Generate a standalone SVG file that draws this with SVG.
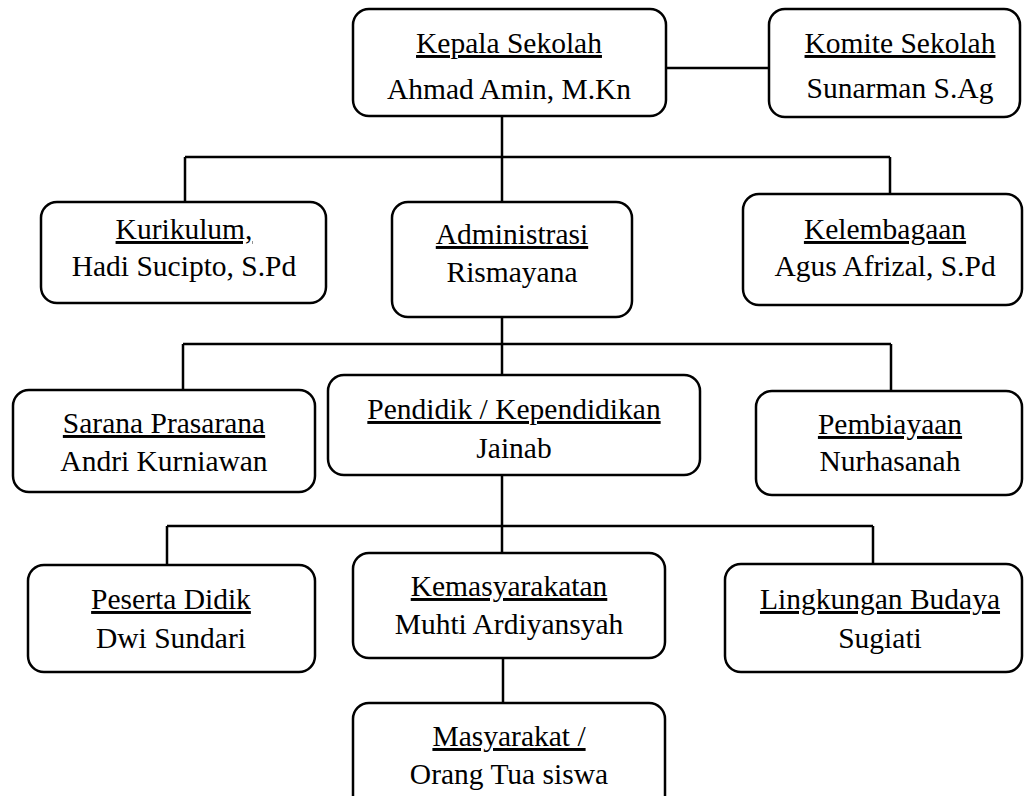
<svg xmlns="http://www.w3.org/2000/svg" width="1025" height="796" viewBox="0 0 1025 796">
<style>
.box{fill:#fff;stroke:#000;stroke-width:2.5}
.ln{fill:none;stroke:#000;stroke-width:2.5}
text{font-family:"Liberation Serif","Times New Roman",serif;font-size:29.5px;fill:#000;text-anchor:middle}
.u{text-decoration:underline}
</style>
<rect width="1025" height="796" fill="#fff"/>
<g id="connectors">
<path class="ln" d="M666 68H769"/>
<path class="ln" d="M502 116V157M185 157H890M185 157V202M502 157V202M890 157V194"/>
<path class="ln" d="M502 317V344M183 344H891M183 344V390M502 344V375M891 344V391"/>
<path class="ln" d="M502 475V526M167 526H873M167 526V565M502 526V553M873 526V564"/>
<path class="ln" d="M503 658V703"/>
</g>
<g id="kepala"><rect class="box" x="353" y="9" width="313" height="107" rx="16"/><text class="u" x="509" y="53">Kepala Sekolah</text><text x="509" y="99">Ahmad Amin, M.Kn</text></g>
<g id="komite"><rect class="box" x="769" y="9" width="251" height="108" rx="16"/><text class="u" x="900" y="53">Komite Sekolah</text><text x="900" y="98">Sunarman S.Ag</text></g>
<g id="kurikulum"><rect class="box" x="41" y="202" width="285" height="101" rx="16"/><text class="u" x="184" y="239">Kurikulum,</text><text x="184" y="276">Hadi Sucipto, S.Pd</text></g>
<g id="administrasi"><rect class="box" x="392" y="202" width="240" height="115" rx="16"/><text class="u" x="512" y="244">Administrasi</text><text x="512" y="282">Rismayana</text></g>
<g id="kelembagaan"><rect class="box" x="743" y="194" width="279" height="111" rx="16"/><text class="u" x="885" y="239">Kelembagaan</text><text x="885" y="276">Agus Afrizal, S.Pd</text></g>
<g id="sarana"><rect class="box" x="13" y="390" width="302" height="102" rx="16"/><text class="u" x="164" y="433">Sarana Prasarana</text><text x="164" y="471">Andri Kurniawan</text></g>
<g id="pendidik"><rect class="box" x="328" y="375" width="372" height="100" rx="16"/><text class="u" x="514" y="419">Pendidik / Kependidikan</text><text x="514" y="458">Jainab</text></g>
<g id="pembiayaan"><rect class="box" x="756" y="391" width="266" height="104" rx="16"/><text class="u" x="890" y="434">Pembiayaan</text><text x="890" y="471">Nurhasanah</text></g>
<g id="peserta"><rect class="box" x="28" y="565" width="287" height="107" rx="16"/><text class="u" x="171" y="609">Peserta Didik</text><text x="171" y="648">Dwi Sundari</text></g>
<g id="kemasyarakatan"><rect class="box" x="353" y="553" width="312" height="105" rx="16"/><text class="u" x="509" y="596">Kemasyarakatan</text><text x="509" y="634">Muhti Ardiyansyah</text></g>
<g id="lingkungan"><rect class="box" x="725" y="564" width="297" height="108" rx="16"/><text class="u" x="880" y="609">Lingkungan Budaya</text><text x="880" y="648">Sugiati</text></g>
<g id="masyarakat"><rect class="box" x="353" y="703" width="312" height="110" rx="16"/><text class="u" x="509" y="746">Masyarakat /</text><text x="509" y="784">Orang Tua siswa</text></g>
</svg>
